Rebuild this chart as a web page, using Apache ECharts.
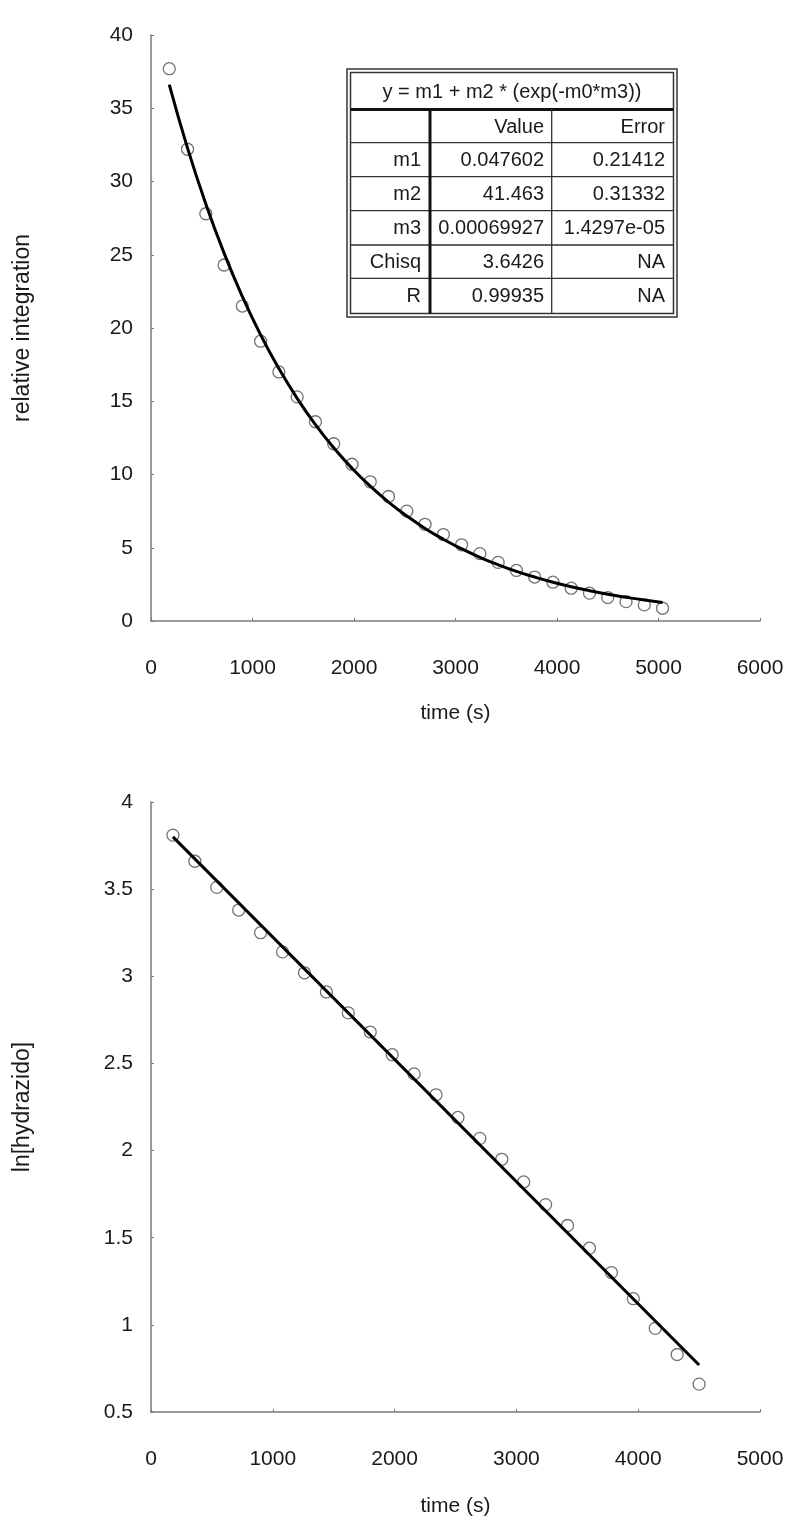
<!DOCTYPE html>
<html>
<head>
<meta charset="utf-8">
<script src="https://cdn.jsdelivr.net/npm/echarts@6/dist/echarts.min.js"></script>
<style>
html,body{margin:0;padding:0;background:#fff;}
#chart{width:800px;height:1529px;}
</style>
</head>
<body>
<div id="chart"></div>
<script>
// ---------- data ----------
var timeTop = [180, 360, 540, 720, 900, 1080, 1260, 1440, 1620, 1800, 1980, 2160, 2340, 2520,
  2700, 2880, 3060, 3240, 3420, 3600, 3780, 3960, 4140, 4320, 4500, 4680, 4860, 5040];
var integTop = [37.7, 32.2, 27.8, 24.3, 21.5, 19.1, 17.0, 15.3, 13.6, 12.1, 10.7, 9.5, 8.5, 7.5,
  6.6, 5.9, 5.2, 4.6, 4.0, 3.45, 3.0, 2.65, 2.24, 1.9, 1.6, 1.32, 1.1, 0.87];
var fitTop = [36.61, 32.28, 28.47, 25.11, 22.15, 19.53, 17.23, 15.20, 13.40, 11.82, 10.43, 9.20,
  8.12, 7.17, 6.32, 5.58, 4.93, 4.35, 3.84, 3.39, 3.00, 2.65, 2.34, 2.07, 1.83, 1.62, 1.43, 1.27];

var timeBottom = [180, 360, 540, 720, 900, 1080, 1260, 1440, 1620, 1800, 1980, 2160, 2340,
  2520, 2700, 2880, 3060, 3240, 3420, 3600, 3780, 3960, 4140, 4320, 4500];
var lnBottom = [3.81, 3.66, 3.51, 3.38, 3.25, 3.14, 3.02, 2.91, 2.79, 2.68, 2.55, 2.44, 2.32,
  2.19, 2.07, 1.95, 1.82, 1.69, 1.57, 1.44, 1.30, 1.15, 0.98, 0.83, 0.66];
var fitBottomX = [180, 4500];
var fitBottomY = [3.80, 0.77];

var tableTitle = 'y = m1 + m2 * (exp(-m0*m3))';
var tableHeader = ['', 'Value', 'Error'];
var tableRows = [
  ['m1', '0.047602', '0.21412'],
  ['m2', '41.463', '0.31332'],
  ['m3', '0.00069927', '1.4297e-05'],
  ['Chisq', '3.6426', 'NA'],
  ['R', '0.99935', 'NA']
];

// ---------- helpers ----------
function pairs(xs, ys) { return xs.map(function (x, i) { return [x, ys[i]]; }); }

var FONT = "'Liberation Sans', Arial, sans-serif";
var TXT = '#1a1a1a';
var AX = '#7a7a7a';

function xAxisCfg(gi, max, gap) {
  return {
    type: 'value', gridIndex: gi, min: 0, max: max, interval: 1000,
    name: 'time (s)', nameLocation: 'middle', nameGap: gap,
    nameTextStyle: { fontFamily: FONT, fontSize: 21, color: TXT },
    axisLine: { show: true, onZero: false, lineStyle: { color: AX, width: 1.5 } },
    axisTick: { show: true, inside: true, length: 3, lineStyle: { color: AX } },
    axisLabel: { margin: 37, fontFamily: FONT, fontSize: 21, color: TXT,
      formatter: function (v) { return String(v); } },
    splitLine: { show: false }
  };
}
function yAxisCfg(gi, min, max, interval, name) {
  return {
    type: 'value', gridIndex: gi, min: min, max: max, interval: interval,
    name: name, nameLocation: 'middle', nameGap: 117,
    nameTextStyle: { fontFamily: FONT, fontSize: 23, color: TXT },
    axisLine: { show: true, onZero: false, lineStyle: { color: AX, width: 1.5 } },
    axisTick: { show: true, inside: true, length: 3, lineStyle: { color: AX } },
    axisLabel: { margin: 18, fontFamily: FONT, fontSize: 21, color: TXT,
      formatter: function (v) { return String(v); } },
    splitLine: { show: false }
  };
}

// ---------- table as graphic ----------
var T = { x0: 347, y0: 69, x1: 677, y1: 317, inset: 3.5,
  titleBottom: 109.5, rowYs: [109.5, 142.7, 176.7, 210.7, 245, 278.3, 313.5],
  colX: [350.5, 430, 551.7, 673.5] };
var g = [];
g.push({ type: 'rect', shape: { x: T.x0, y: T.y0, width: T.x1 - T.x0, height: T.y1 - T.y0 },
  style: { fill: '#fff', stroke: '#333', lineWidth: 1.5 }, z: 100 });
g.push({ type: 'rect', shape: { x: T.x0 + T.inset, y: T.y0 + T.inset, width: T.x1 - T.x0 - 2 * T.inset, height: T.y1 - T.y0 - 2 * T.inset },
  style: { fill: 'none', stroke: '#333', lineWidth: 1.5 }, z: 101 });
g.push({ type: 'line', shape: { x1: T.colX[0], y1: T.titleBottom, x2: T.colX[3], y2: T.titleBottom },
  style: { stroke: '#111', lineWidth: 3 }, z: 101 });
for (var r = 1; r < T.rowYs.length - 1; r++) {
  g.push({ type: 'line', shape: { x1: T.colX[0], y1: T.rowYs[r], x2: T.colX[3], y2: T.rowYs[r] },
    style: { stroke: '#333', lineWidth: 1.3 }, z: 101 });
}
g.push({ type: 'line', shape: { x1: T.colX[1], y1: T.titleBottom, x2: T.colX[1], y2: T.rowYs[6] },
  style: { stroke: '#111', lineWidth: 3 }, z: 101 });
g.push({ type: 'line', shape: { x1: T.colX[2], y1: T.titleBottom, x2: T.colX[2], y2: T.rowYs[6] },
  style: { stroke: '#333', lineWidth: 1.3 }, z: 101 });
g.push({ type: 'text', x: (T.colX[0] + T.colX[3]) / 2, y: (T.y0 + T.inset + T.titleBottom) / 2 + 1,
  style: { text: tableTitle, fontFamily: FONT, fontSize: 20, fill: TXT,
    textAlign: 'center', textVerticalAlign: 'middle' }, z: 102 });
var allRows = [tableHeader].concat(tableRows);
var rightEdges = [421, 544, 665];
allRows.forEach(function (row, ri) {
  var cy = (T.rowYs[ri] + T.rowYs[ri + 1]) / 2 + 1;
  row.forEach(function (cell, ci) {
    if (!cell) return;
    g.push({ type: 'text', x: rightEdges[ci], y: cy,
      style: { text: cell, fontFamily: FONT, fontSize: 20, fill: TXT,
        textAlign: 'right', textVerticalAlign: 'middle' }, z: 102 });
  });
});

// ---------- chart ----------
var chart = echarts.init(document.getElementById('chart'), null, { renderer: 'canvas' });
chart.setOption({
  backgroundColor: '#fff',
  animation: false,
  grid: [
    { left: 151, top: 35, width: 609, height: 586, containLabel: false, outerBoundsMode: 'none' },
    { left: 151, top: 802, width: 609, height: 610, containLabel: false, outerBoundsMode: 'none' }
  ],
  xAxis: [xAxisCfg(0, 6000, 82), xAxisCfg(1, 5000, 84)],
  yAxis: [yAxisCfg(0, 0, 40, 5, 'relative integration'), yAxisCfg(1, 0.5, 4, 0.5, 'ln[hydrazido]')],
  series: [
    { type: 'scatter', xAxisIndex: 0, yAxisIndex: 0, data: pairs(timeTop, integTop),
      symbol: 'circle', symbolSize: 12,
      itemStyle: { color: 'rgba(255,255,255,0)', borderColor: '#505050', borderWidth: 1.3 }, z: 2 },
    { type: 'line', xAxisIndex: 0, yAxisIndex: 0, data: pairs(timeTop, fitTop),
      smooth: true, showSymbol: false, symbol: 'none',
      lineStyle: { color: '#000', width: 3 }, z: 3 },
    { type: 'scatter', xAxisIndex: 1, yAxisIndex: 1, data: pairs(timeBottom, lnBottom),
      symbol: 'circle', symbolSize: 12,
      itemStyle: { color: 'rgba(255,255,255,0)', borderColor: '#505050', borderWidth: 1.3 }, z: 2 },
    { type: 'line', xAxisIndex: 1, yAxisIndex: 1, data: pairs(fitBottomX, fitBottomY),
      showSymbol: false, symbol: 'none',
      lineStyle: { color: '#000', width: 3 }, z: 3 }
  ],
  graphic: g
});
</script>
</body>
</html>
